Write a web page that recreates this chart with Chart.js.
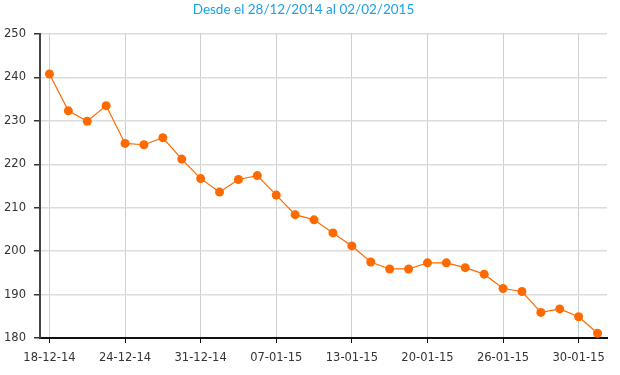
<!DOCTYPE html>
<html>
<head>
<meta charset="utf-8">
<script src="https://cdn.jsdelivr.net/npm/chart.js@4/dist/chart.umd.min.js"></script>
<style>
html,body{margin:0;padding:0;background:#fff;}
#wrap{width:620px;height:375px;}
</style>
</head>
<body>
<div id="wrap"><canvas id="c"></canvas></div>
<script>
const titleText = 'Desde el 28/12/2014 al 02/02/2015';

const dates = [
'18-12-14','19-12-14','22-12-14','23-12-14','24-12-14','26-12-14','29-12-14','30-12-14',
'31-12-14','02-01-15','05-01-15','06-01-15','07-01-15','08-01-15','09-01-15','12-01-15',
'13-01-15','14-01-15','15-01-15','16-01-15','20-01-15','21-01-15','22-01-15','23-01-15',
'26-01-15','27-01-15','28-01-15','29-01-15','30-01-15','02-02-15'
];

const values = [
240.8, 232.3, 229.9, 233.5, 224.8, 224.5, 226.1, 221.2,
216.7, 213.6, 216.5, 217.4, 212.9, 208.4, 207.2, 204.2,
201.2, 197.5, 195.9, 195.9, 197.3, 197.3, 196.2, 194.7,
191.4, 190.7, 185.9, 186.7, 184.9, 181.1
];

const yMin = 180, yMax = 250, yStep = 10;
const labelEvery = 4;

const tickFont = { family: 'DejaVu Sans', size: 11.5 };

new Chart(document.getElementById('c'), {
  type: 'line',
  data: {
    labels: dates,
    datasets: [{
      data: values,
      borderColor: '#ff6a00',
      backgroundColor: '#ff6a00',
      borderWidth: 1.2,
      pointRadius: 4.5,
      pointBorderWidth: 0,
      pointBackgroundColor: '#ff6a00',
      tension: 0
    }]
  },
  options: {
    responsive: true,
    maintainAspectRatio: false,
    animation: false,
    layout: { padding: { left: 0, right: 13, top: 0, bottom: 0 } },
    plugins: {
      legend: { display: false },
      tooltip: { enabled: false },
      title: {
        display: true,
        text: titleText,
        color: '#1ea0e6',
        font: { family: 'Lato', size: 13.5, weight: 'normal', lineHeight: 1.2 },
        padding: { top: 2, bottom: 15.8 }
      }
    },
    scales: {
      x: {
        offset: true,
        border: { color: '#111', width: 2 },
        grid: { color: '#cfcfcf', lineWidth: 1, offset: false, tickColor: '#111', tickLength: 5 },
        ticks: {
          autoSkip: false, maxRotation: 0, color: '#333', font: tickFont, padding: 8,
          callback: (v, i) => i % labelEvery === 0 ? dates[i] : null
        },
        afterFit: s => { s.height = 37; }
      },
      y: {
        min: yMin, max: yMax,
        border: { color: '#444', width: 2 },
        grid: { color: '#dcdcdc', lineWidth: 1.5, tickColor: '#333', tickLength: 6 },
        ticks: { stepSize: yStep, color: '#333', font: tickFont, padding: 8 },
        afterFit: s => { s.width = 40; }
      }
    }
  }
});
</script>
</body>
</html>
